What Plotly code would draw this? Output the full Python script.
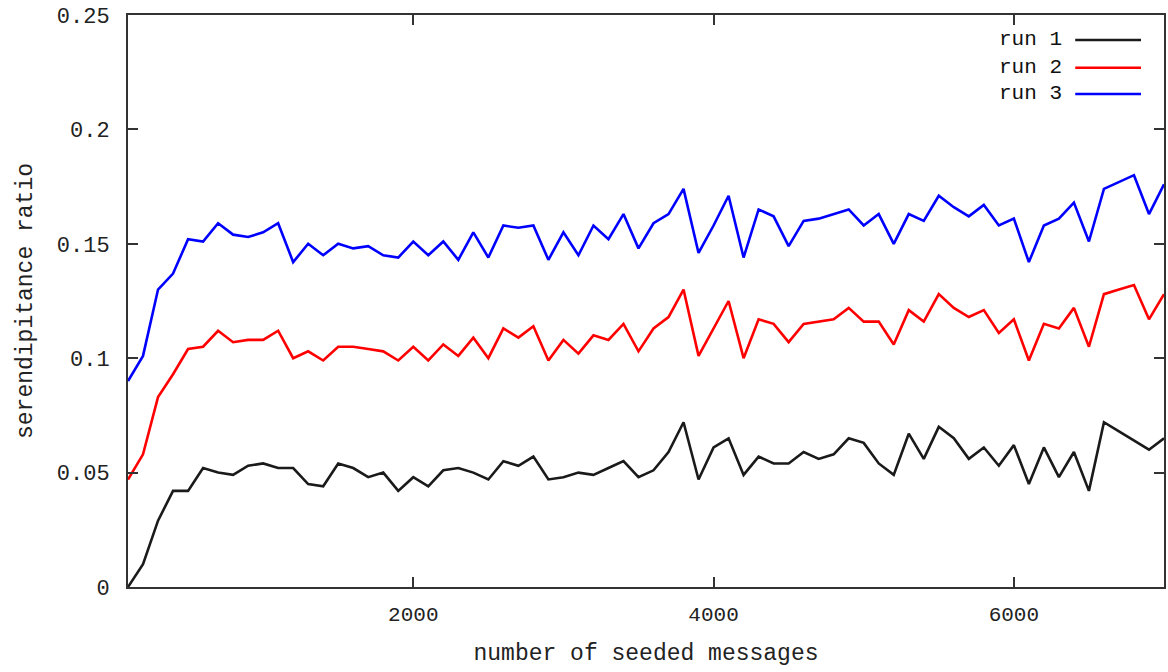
import plotly.graph_objects as go

x_seeded = list(range(100, 7001, 100))

run1 = [0.000, 0.010, 0.029, 0.042, 0.042, 0.052, 0.050, 0.049, 0.053, 0.054,
        0.052, 0.052, 0.045, 0.044, 0.054, 0.052, 0.048, 0.050, 0.042, 0.048,
        0.044, 0.051, 0.052, 0.050, 0.047, 0.055, 0.053, 0.057, 0.047, 0.048,
        0.050, 0.049, 0.052, 0.055, 0.048, 0.051, 0.059, 0.072, 0.047, 0.061,
        0.065, 0.049, 0.057, 0.054, 0.054, 0.059, 0.056, 0.058, 0.065, 0.063,
        0.054, 0.049, 0.067, 0.056, 0.070, 0.065, 0.056, 0.061, 0.053, 0.062,
        0.045, 0.061, 0.048, 0.059, 0.042, 0.072, 0.068, 0.064, 0.060, 0.065]

run2 = [0.047, 0.058, 0.083, 0.093, 0.104, 0.105, 0.112, 0.107, 0.108, 0.108,
        0.112, 0.100, 0.103, 0.099, 0.105, 0.105, 0.104, 0.103, 0.099, 0.105,
        0.099, 0.106, 0.101, 0.109, 0.100, 0.113, 0.109, 0.114, 0.099, 0.108,
        0.102, 0.110, 0.108, 0.115, 0.103, 0.113, 0.118, 0.130, 0.101, 0.113,
        0.125, 0.100, 0.117, 0.115, 0.107, 0.115, 0.116, 0.117, 0.122, 0.116,
        0.116, 0.106, 0.121, 0.116, 0.128, 0.122, 0.118, 0.121, 0.111, 0.117,
        0.099, 0.115, 0.113, 0.122, 0.105, 0.128, 0.130, 0.132, 0.117, 0.128]

run3 = [0.090, 0.101, 0.130, 0.137, 0.152, 0.151, 0.159, 0.154, 0.153, 0.155,
        0.159, 0.142, 0.150, 0.145, 0.150, 0.148, 0.149, 0.145, 0.144, 0.151,
        0.145, 0.151, 0.143, 0.155, 0.144, 0.158, 0.157, 0.158, 0.143, 0.155,
        0.145, 0.158, 0.152, 0.163, 0.148, 0.159, 0.163, 0.174, 0.146, 0.158,
        0.171, 0.144, 0.165, 0.162, 0.149, 0.160, 0.161, 0.163, 0.165, 0.158,
        0.163, 0.150, 0.163, 0.160, 0.171, 0.166, 0.162, 0.167, 0.158, 0.161,
        0.142, 0.158, 0.161, 0.168, 0.151, 0.174, 0.177, 0.180, 0.163, 0.176]

series_names = ["run 1", "run 2", "run 3"]
series_colors = ["#1a1a1a", "#ff0000", "#0000ff"]
series_values = [run1, run2, run3]

x_tickvals = [2000, 4000, 6000]
y_tickvals = [0, 0.05, 0.1, 0.15, 0.2, 0.25]
y_ticktext = ["0", "0.05", "0.1", "0.15", "0.2", "0.25"]

MONO = "Liberation Mono"

fig = go.Figure()
for name, color, vals in zip(series_names, series_colors, series_values):
    fig.add_trace(go.Scatter(x=x_seeded, y=vals, mode="lines", name=name,
                             line=dict(color=color, width=2.6), showlegend=False))

# gnuplot-style legend: text to the left, line sample to the right
leg_y = [0.9563, 0.9079, 0.8619]
for name, color, yy in zip(series_names, series_colors, leg_y):
    fig.add_annotation(xref="paper", yref="paper", x=0.9035, y=yy, text=name,
                       showarrow=False, xanchor="right", yanchor="middle",
                       font=dict(family=MONO, size=21, color="#111"))
    fig.add_shape(type="line", xref="paper", yref="paper", x0=0.9143, x1=0.9778,
                  y0=yy, y1=yy, line=dict(color=color, width=2.6))

fig.update_layout(
    width=1168, height=672,
    margin=dict(l=128, r=2, t=15, b=85),
    paper_bgcolor="white", plot_bgcolor="white",
    font=dict(family=MONO, size=21, color="#222"),
)
fig.update_xaxes(range=[100, 7000], tickvals=x_tickvals, ticks="inside", ticklen=10,
                 tickwidth=2, tickcolor="#333", showline=True, linewidth=2, linecolor="#333",
                 mirror="ticks", showgrid=False, zeroline=False,
                 tickfont=dict(family=MONO, size=21, color="#222"), ticklabelstandoff=7,
                 title=dict(text="number of seeded messages", standoff=18,
                            font=dict(family=MONO, size=23, color="#222")))
fig.update_yaxes(range=[0, 0.25], tickvals=y_tickvals, ticktext=y_ticktext, ticks="inside",
                 ticklen=10, tickwidth=2, tickcolor="#333", showline=True, linewidth=2,
                 linecolor="#333", mirror="ticks", showgrid=False, zeroline=False,
                 tickfont=dict(family=MONO, size=22, color="#222"), ticklabelstandoff=12,
                 title=dict(text="serendipitance ratio", standoff=18,
                            font=dict(family=MONO, size=23, color="#222")))

fig.write_html("out.html")
